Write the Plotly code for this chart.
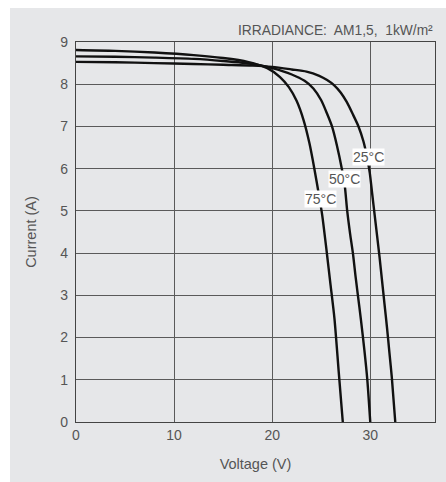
import plotly.graph_objects as go

# I-V curves of a PV module at three cell temperatures
voltage_75 = [0, 4, 8, 12, 15, 17.5, 19.5, 20.8, 21.7, 22.5, 23.2, 23.8, 24.3, 24.75, 25.1, 25.55, 25.95, 26.35, 26.78, 27.2]
current_75 = [8.81, 8.79, 8.75, 8.69, 8.62, 8.53, 8.38, 8.17, 7.93, 7.6, 7.15, 6.6, 6.0, 5.4, 4.9, 4.05, 3.25, 2.45, 1.2, 0]

voltage_50 = [0, 4, 8, 12, 15, 18, 20, 22, 23.3, 24.2, 25.0, 25.6, 26.1, 26.6, 27.1, 27.4, 27.65, 27.95, 28.23, 28.5, 28.74, 29.05, 29.4, 29.7, 30.0]
current_50 = [8.66, 8.65, 8.63, 8.60, 8.55, 8.48, 8.38, 8.23, 8.08, 7.9, 7.62, 7.3, 7.0, 6.55, 6.0, 5.6, 5.0, 4.45, 4.0, 3.45, 3.0, 2.42, 1.7, 1.0, 0]

voltage_25 = [0, 4, 8, 12, 15, 18, 20, 22, 23.5, 24.8, 25.6, 26.3, 27.0, 27.6, 28.2, 28.8, 29.3, 29.65, 29.95, 30.2, 30.45, 30.7, 30.95, 31.2, 31.45, 31.7, 31.95, 32.2, 32.55]
current_25 = [8.53, 8.52, 8.50, 8.48, 8.46, 8.44, 8.41, 8.35, 8.30, 8.2, 8.1, 7.98, 7.8, 7.58, 7.3, 7.0, 6.65, 6.3, 5.9, 5.4, 4.9, 4.4, 3.9, 3.35, 2.8, 2.25, 1.65, 1.05, 0]

curve_labels = ["25°C", "50°C", "75°C"]
label_voltage = [29.77, 27.42, 24.92]
label_current = [6.28, 5.76, 5.28]

x_ticks = [0, 10, 20, 30]
y_ticks = [0, 1, 2, 3, 4, 5, 6, 7, 8, 9]

text_color = "#555555"
font_family = "Liberation Sans, Arial, sans-serif"

fig = go.Figure()
for v, i in [(voltage_75, current_75), (voltage_50, current_50), (voltage_25, current_25)]:
    fig.add_trace(go.Scatter(
        x=v, y=i, mode="lines",
        line=dict(color="#111111", width=2.4, shape="spline", smoothing=0.7),
        showlegend=False, hoverinfo="skip",
    ))

for text, v, i in zip(curve_labels, label_voltage, label_current):
    fig.add_annotation(
        x=v, y=i, text=text, showarrow=False,
        font=dict(size=14, color=text_color, family=font_family),
        bgcolor="white", borderpad=0,
    )

fig.add_annotation(
    x=1.0, y=1.0, xref="paper", yref="paper", xanchor="right", yanchor="bottom",
    yshift=2, text="IRRADIANCE:  AM1,5,  1kW/m²", showarrow=False,
    font=dict(size=13.8, color=text_color, family=font_family),
)

# grey panel behind the chart, leaving a thin white strip on top and left
fig.add_shape(
    type="rect", xref="paper", yref="paper", layer="below",
    x0=-0.1838, x1=1.05, y0=-0.2, y1=1.0895,
    fillcolor="#e6e7e9", line=dict(width=0),
)

axis_common = dict(
    showline=True, linecolor="#444444", linewidth=1.2, mirror=True,
    showgrid=True, gridcolor="#5a5a5a", gridwidth=1.1,
    zeroline=False, ticks="",
    tickfont=dict(size=14, color=text_color, family=font_family),
)

fig.update_layout(
    width=446, height=482,
    margin=dict(l=76, r=11, t=42, b=60),
    paper_bgcolor="white", plot_bgcolor="white",
    xaxis=dict(range=[0, 36.6], tickvals=x_ticks, **axis_common,
               title=dict(text="Voltage (V)", standoff=16,
                          font=dict(size=14.5, color=text_color, family=font_family))),
    yaxis=dict(range=[0, 9], tickvals=y_ticks, ticklabelstandoff=4, **axis_common,
               title=dict(text="Current (A)", standoff=20,
                          font=dict(size=14.5, color=text_color, family=font_family))),
)

fig.write_html("out.html")
